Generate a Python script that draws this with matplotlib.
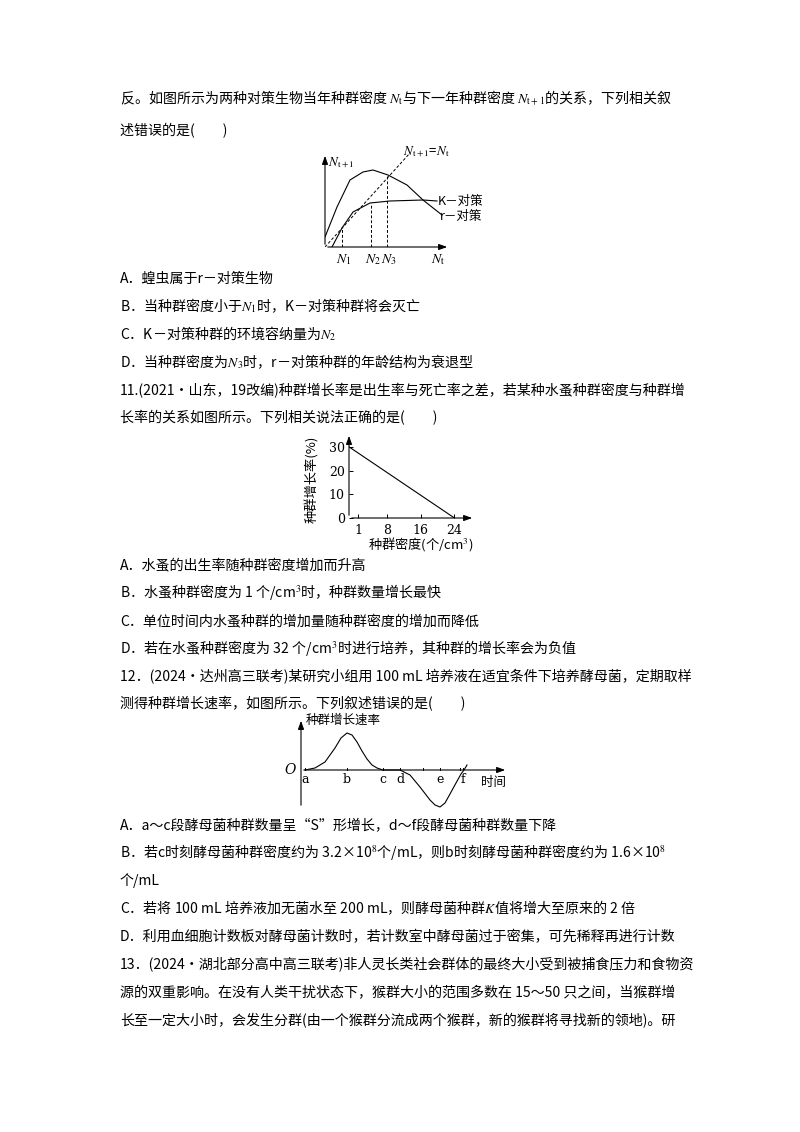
import numpy as np
import matplotlib
matplotlib.use("Agg")
import matplotlib.pyplot as plt

plt.rcParams['font.family'] = ['Noto Sans CJK SC', 'DejaVu Sans']
plt.rcParams['mathtext.fontset'] = 'stix'

W, H = 800, 1132
FAM = ['Noto Sans CJK SC', 'DejaVu Sans']

# ---- page text: (y pixel, text) ----
page_lines = [
    (103, r"反。如图所示为两种对策生物当年种群密度 $N_{\rm t}$与下一年种群密度 $N_{\rm t+1}$的关系，下列相关叙"),
    (135, "述错误的是(　　)"),
    (283, "A．蝗虫属于r－对策生物"),
    (311, r"B．当种群密度小于$N_1$时，K－对策种群将会灭亡"),
    (339, r"C．K－对策种群的环境容纳量为$N_2$"),
    (367, r"D．当种群密度为$N_3$时，r－对策种群的年龄结构为衰退型"),
    (395, "11.(2021·山东，19改编)种群增长率是出生率与死亡率之差，若某种水蚤种群密度与种群增"),
    (422, "长率的关系如图所示。下列相关说法正确的是(　　)"),
    (569, "A．水蚤的出生率随种群密度增加而升高"),
    (597, r"B．水蚤种群密度为 1 个/cm$^3$时，种群数量增长最快"),
    (625, "C．单位时间内水蚤种群的增加量随种群密度的增加而降低"),
    (653, r"D．若在水蚤种群密度为 32 个/cm$^3$时进行培养，其种群的增长率会为负值"),
    (681, "12．(2024·达州高三联考)某研究小组用 100 mL 培养液在适宜条件下培养酵母菌，定期取样"),
    (708, "测得种群增长速率，如图所示。下列叙述错误的是(　　)"),
    (829, "A．a～c段酵母菌种群数量呈“S”形增长，d～f段酵母菌种群数量下降"),
    (857, r"B．若c时刻酵母菌种群密度约为 3.2×10$^8$个/mL，则b时刻酵母菌种群密度约为 1.6×10$^8$"),
    (885, "个/mL"),
    (913, r"C．若将 100 mL 培养液加无菌水至 200 mL，则酵母菌种群$K$值将增大至原来的 2 倍"),
    (941, "D．利用血细胞计数板对酵母菌计数时，若计数室中酵母菌过于密集，可先稀释再进行计数"),
    (969, "13．(2024·湖北部分高中高三联考)非人灵长类社会群体的最终大小受到被捕食压力和食物资"),
    (997, "源的双重影响。在没有人类干扰状态下，猴群大小的范围多数在 15～50 只之间，当猴群增"),
    (1025, "长至一定大小时，会发生分群(由一个猴群分流成两个猴群，新的猴群将寻找新的领地)。研"),
]

# ---- chart 1: N(t+1) vs N(t) (units) ----
r_x = [0, 12, 25, 38, 48, 63, 82, 98, 117]
r_y = [10, 40, 67, 75, 77, 72, 62, 47, 32]
k_x = [7, 17, 28, 45, 65, 98, 112]
k_y = [0, 19, 35, 44, 46, 47, 46]
diag_x = [0, 85]
diag_y = [0, 94]
n_ticks = [17, 46, 62]
n_top = [19, 44, 72]
n_labels = [r"$N_1$", r"$N_2$", r"$N_3$"]

# ---- chart 2: growth rate vs density ----
dens = [-1.1, 24]
rate = [30, 0]
dens_ticks = [1, 8, 16, 24]
rate_ticks = [0, 10, 20, 30]

# ---- chart 3: growth speed over time ----
t_vals = [4, 14, 24, 34, 40, 46, 51, 56, 61, 66, 71, 76, 82,
          99, 109, 119, 129, 134, 139, 144, 149, 155, 160, 163, 166]
v_vals = [0, 2, 8, 22, 32, 37, 35, 28, 19, 11, 5, 2, 0,
          0, -5, -17, -30, -35, -37, -33, -24, -13, -4, 0, 5]
t_marks = [4, 46, 82, 99, 139, 162]
t_names = ["a", "b", "c", "d", "e", "f"]
extra_ticks = [122, 159]

fig = plt.figure(figsize=(W / 100, H / 100), dpi=100)

for y, s in page_lines:
    fig.text(120 / W, 1 - y / H, s, fontsize=10.1, family=FAM, va='baseline', ha='left')


def add_ax(left, bottom, right, top):
    ax = fig.add_axes([left / W, 1 - bottom / H, (right - left) / W, (bottom - top) / H])
    for sp in ax.spines.values():
        sp.set_visible(False)
    ax.patch.set_alpha(0)
    return ax


def arrows(ax, x0, x1, y0, y1, xa, ya):
    kw = dict(arrowstyle='-|>,head_length=0.5,head_width=0.18', color='k', lw=0.8)
    ax.annotate('', xy=(x1, ya), xytext=(x0, ya), arrowprops=kw, annotation_clip=False)
    ax.annotate('', xy=(xa, y1), xytext=(xa, y0), arrowprops=kw, annotation_clip=False)


# chart 1
ax1 = add_ax(325, 247, 450, 153)
ax1.set_xlim(0, 125)
ax1.set_ylim(0, 94)
ax1.set_xticks([]); ax1.set_yticks([])
arrows(ax1, 0, 125, 0, 94, 0, 0)
ax1.plot(r_x, r_y, color='k', lw=0.8)
ax1.plot(k_x, k_y, color='k', lw=0.8)
ax1.plot(diag_x, diag_y, color='k', lw=0.7, ls=(0, (3, 2)))
for xv, tv, lab in zip(n_ticks, n_top, n_labels):
    ax1.plot([xv, xv], [0, tv], color='k', lw=0.7, ls=(0, (3, 2)))
    ax1.text(xv + 2, -5, lab, fontsize=10, ha='center', va='top')
ax1.text(113, -5, r"$N_{\rm t}$", fontsize=10, ha='center', va='top')
ax1.text(3, 92, r"$N_{\rm t+1}$", fontsize=9.5, ha='left', va='top')
ax1.text(78, 88, r"$N_{\rm t+1}$=$N_{\rm t}$", fontsize=9.5, ha='left', va='bottom')
ax1.text(113, 46, "K－对策", fontsize=9, family=FAM, ha='left', va='center')
ax1.text(115, 31, "r－对策", fontsize=9, family=FAM, ha='left', va='center')

# chart 2
ax2 = add_ax(349, 518, 475, 433)
ax2.set_xlim(-1.15, 28.9)
ax2.set_ylim(0, 35.9)
arrows(ax2, -1.15, 28.9, 0, 35.9, -1.15, 0)
ax2.plot(dens, rate, color='k', lw=0.8)
ax2.set_xticks(dens_ticks)
ax2.set_yticks(rate_ticks)
ax2.tick_params(direction='in', length=3, width=0.7, labelsize=9, pad=3)
ax2.tick_params(axis='x', pad=4)
ax2.yaxis.set_ticks_position('left')
ax2.set_ylabel("种群增长率(%)", fontsize=9.5, family=FAM)
ax2.yaxis.set_label_coords(-0.24, 0.45)
ax2.set_xlabel(r"种群密度(个/cm$^3$)", fontsize=9.5, family=FAM, labelpad=1)
ax2.xaxis.set_label_coords(0.57, -0.2)
for lab in ax2.get_xticklabels() + ax2.get_yticklabels():
    lab.set_family('DejaVu Serif')

# chart 3
ax3 = add_ax(301, 808, 508, 718)
ax3.set_xlim(0, 207)
ax3.set_ylim(-38, 52)
ax3.set_xticks([]); ax3.set_yticks([])
kw = dict(arrowstyle='-|>,head_length=0.5,head_width=0.18', color='k', lw=0.8)
ax3.annotate('', xy=(207, 0), xytext=(0, 0), arrowprops=kw, annotation_clip=False)
ax3.annotate('', xy=(0, 52), xytext=(0, -38), arrowprops=kw, annotation_clip=False)
ax3.plot(t_vals, v_vals, color='k', lw=0.8)
for xv, nm in zip(t_marks, t_names):
    ax3.plot([xv, xv], [0, 2.5], color='k', lw=0.7)
    ax3.text(xv, -3, nm, fontsize=9, family='DejaVu Serif', ha='center', va='top')
for xv in extra_ticks:
    ax3.plot([xv, xv], [0, 2.5], color='k', lw=0.7)
ax3.text(-5, 0, "O", fontsize=10, family='DejaVu Serif', style='italic', ha='right', va='center')
ax3.text(180, -6, "时间", fontsize=9, family=FAM, ha='left', va='top')
ax3.text(5, 50, "种群增长速率", fontsize=9, family=FAM, ha='left', va='center')

fig.savefig("out.png", dpi=100, facecolor='white')
